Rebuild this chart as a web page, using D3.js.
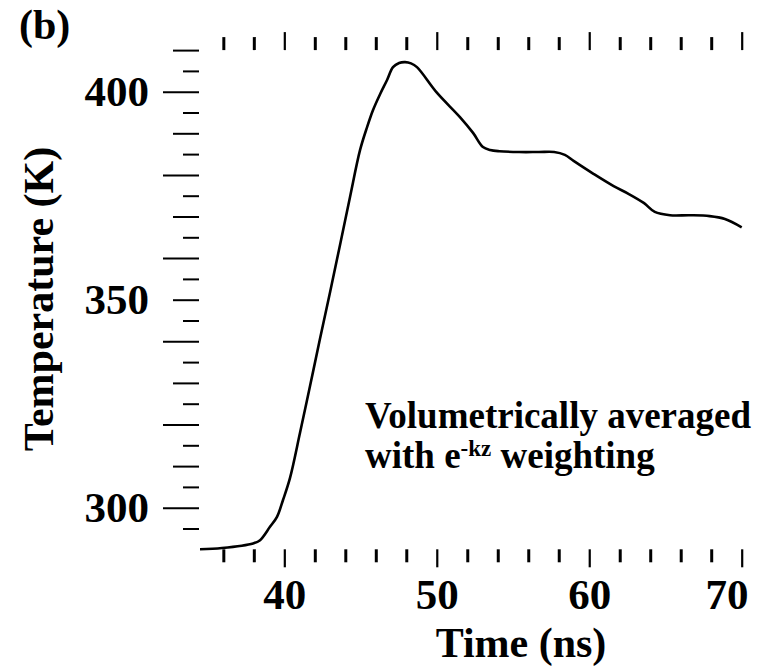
<!DOCTYPE html>
<html>
<head>
<meta charset="utf-8">
<script src="https://cdn.jsdelivr.net/npm/d3@7/dist/d3.min.js"></script>
<style>
  html, body { margin: 0; padding: 0; background: #fff; }
  svg { display: block; }
  svg text { font-family: "Liberation Serif", "DejaVu Serif", serif !important; font-weight: bold; fill: #000; }
</style>
</head>
<body>
<svg id="chart" width="772" height="669"></svg>
<script>
// Volumetrically averaged temperature vs. time
const timeNs = [34.47, 35.91, 37.95, 38.41, 39.06, 39.52, 39.91, 40.37, 41.03, 41.69, 42.34, 43.0, 43.65, 44.31, 44.97, 45.43, 45.82, 46.28, 46.74, 47.13, 47.53, 47.92, 48.31, 48.7, 50.02, 51.52, 52.38, 53.03, 53.5, 54.1, 55.4, 56.7, 57.7, 58.4, 59.0, 60.3, 61.6, 62.6, 63.6, 64.3, 65.3, 66.6, 67.9, 68.9, 70.0];
const tempK  = [290.0, 290.3, 291.4, 292.2, 295.4, 297.8, 301.8, 307.1, 318.0, 329.3, 340.6, 351.8, 363.1, 374.7, 386.0, 391.5, 395.6, 399.4, 402.8, 405.9, 406.9, 407.1, 406.8, 405.9, 399.7, 393.9, 390.1, 386.7, 386.0, 385.7, 385.5, 385.5, 385.5, 384.8, 383.3, 380.2, 377.3, 375.4, 373.2, 371.1, 370.3, 370.3, 370.1, 369.4, 367.4];

const xTickValues = d3.range(36, 71, 2);
const xLabelValues = [40, 50, 60, 70];
const yTickValues = d3.range(295, 411, 5);
const yLabelValues = [300, 350, 400];

const svg = d3.select("#chart");
const plotLeft = 200, plotRight = 741.7, plotTop = 50.1, plotBottom = 549.3;
const serif = '"Liberation Serif", "DejaVu Serif", serif';

const x = d3.scaleLinear().domain([34.47, 70]).range([plotLeft, plotRight]);
const y = d3.scaleLinear().domain([290, 410]).range([plotBottom, plotTop]);

// Tick length classes
const xTickLen = v => (v % 10 === 0 ? 18 : 13);
const yTickLen = v => (v % 20 === 0 ? 36 : (v % 10 === 0 ? 26 : 16));

// Bottom axis
const gB = svg.append("g").attr("transform", `translate(0,${plotBottom})`)
  .call(d3.axisBottom(x).tickValues(xTickValues).tickSize(13)
    .tickFormat(d => xLabelValues.includes(d) ? d : ""));
gB.attr("font-family", serif);
gB.select(".domain").remove();
gB.selectAll(".tick line")
  .attr("y2", d => xTickLen(d))
  .attr("stroke", "#000")
  .attr("stroke-width", d => (d % 10 === 0 ? 2.2 : 3));
gB.selectAll(".tick text")
  .attr("y", 60).attr("dy", 0)
  .attr("font-size", 43)
  .attr("fill", "#000")
  .attr("text-anchor", "middle")
  .each(function (d) {
    // keep the last label inside the drawing area
    const w = this.getComputedTextLength();
    const cx = x(d);
    const maxRight = 748;
    if (cx + w / 2 > maxRight) d3.select(this).attr("x", maxRight - w / 2 - cx);
  });

// Top axis (ticks only)
const gT = svg.append("g").attr("transform", `translate(0,${plotTop})`)
  .call(d3.axisTop(x).tickValues(xTickValues).tickSize(12).tickFormat(""));
gT.select(".domain").remove();
gT.selectAll(".tick line")
  .attr("y2", d => -xTickLen(d))
  .attr("stroke", "#000")
  .attr("stroke-width", d => (d % 10 === 0 ? 2.2 : 3));

// Left axis
const gL = svg.append("g").attr("transform", `translate(${plotLeft - 1},0)`)
  .call(d3.axisLeft(y).tickValues(yTickValues).tickSize(16)
    .tickFormat(d => yLabelValues.includes(d) ? d : ""));
gL.attr("font-family", serif);
gL.select(".domain").remove();
gL.selectAll(".tick line")
  .attr("x2", d => -yTickLen(d))
  .attr("stroke", "#000")
  .attr("stroke-width", 2);
gL.selectAll(".tick text")
  .attr("x", -50).attr("dy", "0.32em")
  .attr("font-size", 43)
  .attr("fill", "#000")
  .attr("text-anchor", "end");

// Data curve
const line = d3.line().x((d, i) => x(timeNs[i])).y(d => y(d)).curve(d3.curveCatmullRom.alpha(0.5));
svg.append("path")
  .datum(tempK)
  .attr("d", line)
  .attr("fill", "none")
  .attr("stroke", "#000")
  .attr("stroke-width", 2.6)
  .attr("stroke-linejoin", "round");

// Axis titles
svg.append("text")
  .attr("x", 521).attr("y", 657)
  .attr("text-anchor", "middle")
  .attr("font-size", 42)
  .text("Time (ns)");

svg.append("text")
  .attr("transform", "translate(53,299) rotate(-90)")
  .attr("text-anchor", "middle")
  .attr("font-size", 42)
  .text("Temperature (K)");

// Panel label
svg.append("text")
  .attr("x", 19).attr("y", 39)
  .attr("font-size", 42)
  .text("(b)");

// Annotation
const note = svg.append("text").attr("font-size", 37);
note.append("tspan").attr("x", 365).attr("y", 428).text("Volumetrically averaged");
note.append("tspan").attr("x", 365).attr("y", 468).text("with e");
note.append("tspan").attr("dy", -12).attr("font-size", 23).text("-kz");
note.append("tspan").attr("dy", 12).text(" weighting");
</script>
</body>
</html>
